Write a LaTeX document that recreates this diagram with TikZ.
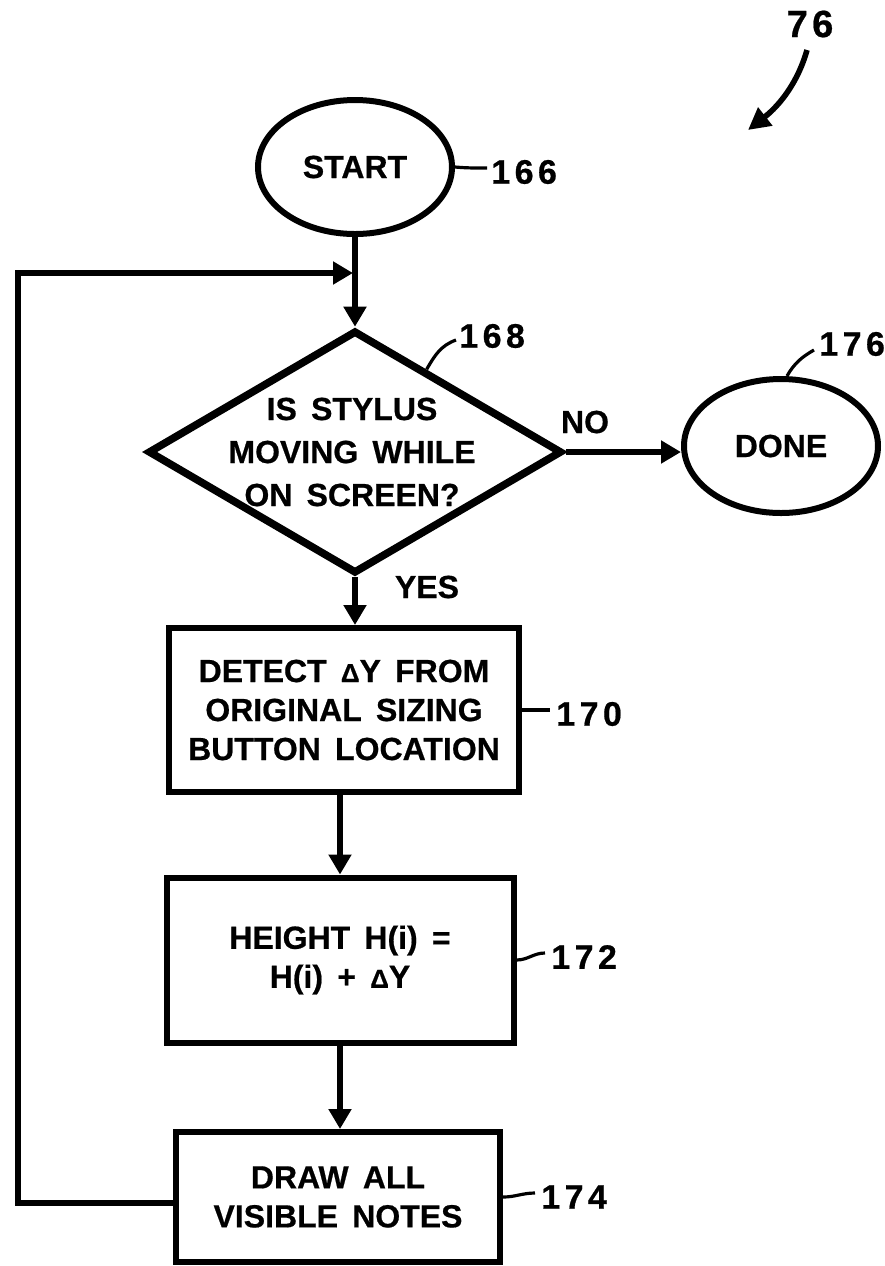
\documentclass[tikz,border=0pt]{standalone}
\usepackage{fontspec}
\setmainfont{Liberation Sans}[WordSpace=1.6, BoldFeatures={FakeBold=0.6}]
\usetikzlibrary{shapes.geometric,arrows.meta,calc}
\newcommand{\dg}{\hspace{2.2pt}}
\newcommand{\dlt}{{\fontsize{13}{13}\selectfont Δ}}
\begin{document}
\begin{tikzpicture}[x=0.5pt,y=-0.5pt,
  every node/.style={font=\bfseries\fontsize{16}{19.5}\selectfont, align=center, inner sep=0pt},
  term/.style={ellipse, draw, line width=3pt, minimum width=97pt, minimum height=67pt},
  decide/.style={diamond, draw, line width=3.8pt, minimum width=207pt, minimum height=121.5pt},
  proc/.style={rectangle, draw, line width=3pt},
  arr/.style={line width=2.6pt, line join=miter, -{Triangle[length=10pt,width=11pt]}},
  lead/.style={line width=1.6pt},
  num/.style={font=\bfseries\fontsize{17}{17}\selectfont, anchor=west}]
\useasboundingbox (0,0) rectangle (885,1266);

% main shapes
\node[term] (start) at (355,167) {START};
\node[decide] (dec) at (355,452) {};
\node (dectext) at (352,452) {IS STYLUS\\[2pt]MOVING WHILE\\[2pt]ON SCREEN?};
\node[term] (done) at (781,446) {DONE};
\node[proc, minimum width=175pt, minimum height=82pt] (b170) at (344,710)
  {DETECT \dlt Y FROM\\ORIGINAL SIZING\\BUTTON LOCATION};
\node[proc, minimum width=173.5pt, minimum height=82.5pt] (b172) at (340,960)
  {HEIGHT H(i) =\\H(i) + \dlt Y};
\node[proc, minimum width=162pt, minimum height=65pt] (b174) at (338,1197)
  {DRAW ALL\\VISIBLE NOTES};

% branch labels
\node (no) at (585,422) {NO};
\node (yes) at (427,587) {YES};

% reference numerals
\node[num] (n166) at (491,172) {1\dg6\dg6};
\node[num] (n168) at (459,336) {1\dg6\dg8};
\node[num] (n176) at (819,344) {1\dg7\dg6};
\node[num] (n170) at (556,714) {1\dg7\dg0};
\node[num] (n172) at (551,957) {1\dg7\dg2};
\node[num] (n174) at (541,1197) {1\dg7\dg4};
\node[font=\bfseries\fontsize{19}{19}\selectfont] (n76) at (810,24) {7\dg6};

% coordinates for loop and free ends
\coordinate (lb) at (18,1203);
\coordinate (lt) at (18,273);
\coordinate (j) at (353,273);
\coordinate (e168) at (456,340);
\coordinate (e176) at (814,350);
\coordinate (a76s) at (807,50);
\coordinate (a76e) at (748,130);

% flow connectors
\draw[arr] (start) -- (dec);
\draw[arr] (dec.east) -- (done.west |- dec.east);
\draw[arr] (dec.south) -- (dec.south |- b170.north);
\draw[arr] (b170.south -| b172.north) -- (b172.north);
\draw[arr] (b172.south) -- (b174.north -| b172.south);
\draw[arr] (b174.west |- lb) -- (lb) -- (lt) -- (j);

% leaders
\draw[lead] (start.east) to[out=-5,in=180] ([xshift=-2pt,yshift=2pt]n166.west);
\draw[lead] ($(dec.north)!0.34!(dec.east)$) to[out=60,in=200] (e168);
\draw[lead] ($(done.north)+(6,0)$) to[out=60,in=210] (e176);
\draw[lead] (b170.east) to[out=0,in=180] ([xshift=-3pt,yshift=2pt]n170.west);
\draw[lead] (b172.east) to[out=0,in=180] ([xshift=-3pt,yshift=2pt]n172.west);
\draw[lead] (b174.east) to[out=0,in=180] ([xshift=-3pt,yshift=2pt]n174.west);

% figure arrow
\draw[line width=2.8pt, -{Triangle[length=11pt,width=11pt]}] (a76s) .. controls (798,82) and (780,105) .. (a76e);
\end{tikzpicture}
\end{document}
